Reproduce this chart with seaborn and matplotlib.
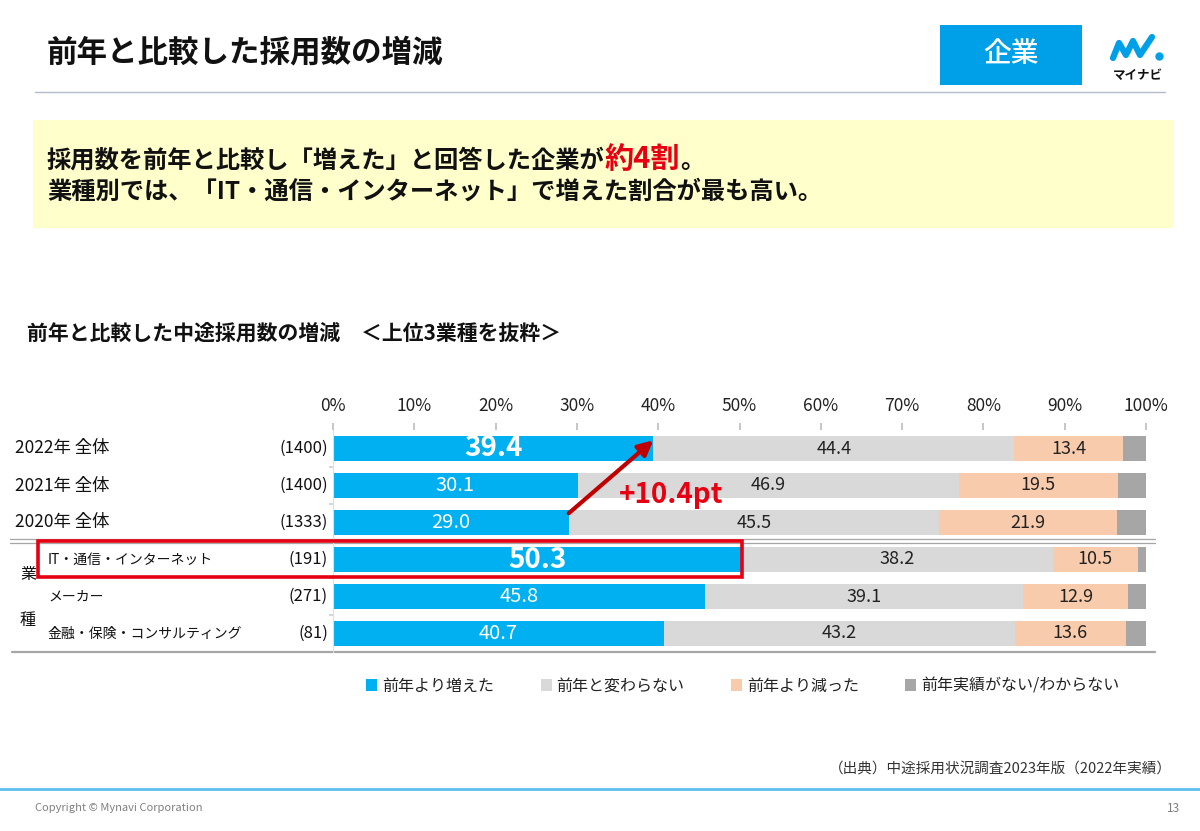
import numpy as np
import pandas as pd
import matplotlib
matplotlib.use("Agg")
import matplotlib.pyplot as plt
import seaborn as sns
from matplotlib.patches import Rectangle, Patch
from matplotlib.lines import Line2D
import matplotlib.transforms as mtransforms

# ---------------- data ----------------
categories = ["2022年 全体", "2021年 全体", "2020年 全体",
              "IT・通信・インターネット", "メーカー", "金融・保険・コンサルティング"]
sample_sizes = ["(1400)", "(1400)", "(1333)", "(191)", "(271)", "(81)"]
increased = [39.4, 30.1, 29.0, 50.3, 45.8, 40.7]
unchanged = [44.4, 46.9, 45.5, 38.2, 39.1, 43.2]
decreased = [13.4, 19.5, 21.9, 10.5, 12.9, 13.6]
unknown = [2.8, 3.5, 3.6, 1.0, 2.2, 2.5]
series_names = ["前年より増えた", "前年と変わらない", "前年より減った", "前年実績がない/わからない"]
series_colors = ["#00B0F0", "#D9D9D9", "#F8CBAD", "#A6A6A6"]
tick_values = [0, 10, 20, 30, 40, 50, 60, 70, 80, 90, 100]
tick_labels = [f"{v}%" for v in tick_values]
highlight_rows = [0, 3]

# ---------------- style ----------------
sns.set_theme(style="white")
plt.rcParams['font.family'] = ['Noto Sans CJK JP', 'DejaVu Sans']

W, H = 1200, 831
fig = plt.figure(figsize=(12, 8.31), dpi=100)
fig.patch.set_facecolor("white")


def fx(px):
    return px / W


def fy(py):
    return 1 - py / H


ax = fig.add_axes([fx(333), fy(652), fx(1146) - fx(333), fy(430) - fy(652)])

df = pd.DataFrame({"cat": categories,
                   series_names[0]: increased,
                   series_names[1]: unchanged,
                   series_names[2]: decreased,
                   series_names[3]: unknown})
cum = df[series_names].cumsum(axis=1)

for i in reversed(range(4)):
    sns.barplot(x=cum[series_names[i]], y=df["cat"], orient="h",
                color=series_colors[i], saturation=1, width=0.7,
                linewidth=0, ax=ax)

ax.set_xlim(0, 100)
ax.set_ylim(5.5, -0.5)
ax.set_xlabel("")
ax.set_ylabel("")
ax.xaxis.tick_top()
ax.set_xticks(tick_values)
ax.set_xticklabels(tick_labels, fontsize=12.5, color="#222222")
ax.tick_params(axis="x", which="major", length=5, color="#BFBFBF", pad=6, top=True, bottom=False)
ax.set_yticks([0.5, 1.5, 2.5, 3.5, 4.5])
ax.set_yticklabels([])
ax.tick_params(axis="y", length=3, color="#D0D0D0", left=True)
for s in ["top", "right", "bottom"]:
    ax.spines[s].set_visible(False)
ax.spines["left"].set_color("#E0E0E0")
ax.spines["left"].set_linewidth(0.8)

# value labels
segs = [increased, unchanged, decreased]
starts = [np.zeros(6), np.array(increased), np.array(increased) + np.array(unchanged)]
for r in range(6):
    for k in range(3):
        v = segs[k][r]
        cx = starts[k][r] + v / 2
        if k == 0:
            if r in highlight_rows:
                ax.text(cx, r, f"{v:.1f}", ha="center", va="center", color="white",
                        fontsize=20, fontweight="bold")
            else:
                ax.text(cx, r, f"{v:.1f}", ha="center", va="center", color="white",
                        fontsize=14.5)
        else:
            ax.text(cx, r, f"{v:.1f}", ha="center", va="center", color="#222222",
                    fontsize=13)

# row labels
bt = mtransforms.blended_transform_factory(fig.transFigure, ax.transData)
for r, (c, n) in enumerate(zip(categories, sample_sizes)):
    if r < 3:
        ax.text(fx(15), r, c, transform=bt, ha="left", va="center", fontsize=12.5, color="#111111")
    else:
        ax.text(fx(48), r, c, transform=bt, ha="left", va="center", fontsize=10, color="#111111")
    ax.text(fx(328), r, n, transform=bt, ha="right", va="center", fontsize=12, color="#111111")

fig.text(fx(28), fy(575), "業", ha="center", va="center", fontsize=11.5, color="#111111")
fig.text(fx(28), fy(620), "種", ha="center", va="center", fontsize=11.5, color="#111111")

# separator double line and bottom line
for dy in (-0.045, 0.045):
    ax.add_line(Line2D([fx(10), fx(1155)], [2.5 + dy, 2.5 + dy], transform=bt,
                       color="#A6A6A6", lw=0.9, clip_on=False))
ax.add_line(Line2D([fx(12), fx(1155)], [5.5, 5.5], transform=bt,
                   color="#A6A6A6", lw=1.6, clip_on=False))

# red highlight rectangle around IT row
left_x = ax.transData.inverted().transform(fig.transFigure.transform((fx(38), 0)))[0]
ax.add_patch(Rectangle((left_x, 2.5), increased[3] - left_x, 0.97, fill=False,
                       edgecolor="#E60012", lw=2.6, clip_on=False, zorder=5))

# arrow and difference
ax.annotate("", xy=(increased[0], -0.22), xytext=(increased[2], 1.75),
            arrowprops=dict(arrowstyle="-|>", color="#C00000", lw=3,
                            mutation_scale=22, shrinkA=0, shrinkB=0), zorder=6)
diff = increased[0] - increased[2]
ax.text(41.6, 1.27, f"+{diff:.1f}pt", ha="center", va="center", color="#E60012",
        fontsize=20, fontweight="bold", zorder=6)

# legend
handles = [Patch(facecolor=c, edgecolor="none") for c in series_colors]
fig.legend(handles, series_names, ncol=4, loc="center", bbox_to_anchor=(0.619, fy(686)),
           frameon=False, handlelength=0.7, handleheight=0.7, handletextpad=0.3,
           columnspacing=2.9, fontsize=11.5, labelcolor="#222222")

# ---------------- page decoration ----------------
fig.text(fx(47), fy(52), "前年と比較した採用数の増減", ha="left", va="center",
         fontsize=22, fontweight="bold", color="#111111")
fig.add_artist(Line2D([fx(35), fx(1165)], [fy(92), fy(92)], color="#B4BCCB", lw=1))

fig.add_artist(Rectangle((fx(940), fy(85)), fx(142), 60 / H, transform=fig.transFigure,
                         facecolor="#00A0E9", edgecolor="none"))
fig.text(fx(1011), fy(54), "企業", ha="center", va="center", fontsize=20, color="white",
         fontweight="medium")

# logo
lx = [1113, 1119, 1126, 1133, 1140, 1152]
ly = [58, 43, 55, 41, 55, 37]
fig.add_artist(Line2D([fx(v) for v in lx], [fy(v) for v in ly], color="#00A0E9", lw=4.5,
                      solid_capstyle="round", solid_joinstyle="round"))
fig.add_artist(Line2D([fx(1159)], [fy(56)], marker="o", markersize=5, color="#00A0E9", lw=0))
fig.text(fx(1138), fy(75), "マイナビ", ha="center", va="center", fontsize=9,
         fontweight="bold", color="#111111")

# yellow message box
fig.add_artist(Rectangle((fx(33), fy(228)), fx(1140), 108 / H, transform=fig.transFigure,
                         facecolor="#FFFFCC", edgecolor="none"))
renderer = fig.canvas.get_renderer()
t1 = fig.text(fx(47), fy(168), "採用数を前年と比較し「増えた」と回答した企業が", ha="left",
              va="baseline", fontsize=17.5, fontweight="bold", color="#111111")
w1 = t1.get_window_extent(renderer).width / W
t2 = fig.text(fx(47) + w1, fy(168), "約4割", ha="left", va="baseline", fontsize=21,
              fontweight="bold", color="#E60012")
w2 = t2.get_window_extent(renderer).width / W
fig.text(fx(47) + w1 + w2, fy(168), "。", ha="left", va="baseline", fontsize=17.5,
         fontweight="bold", color="#111111")
fig.text(fx(47), fy(199), "業種別では、「IT・通信・インターネット」で増えた割合が最も高い。",
         ha="left", va="baseline", fontsize=17.5, fontweight="bold", color="#111111")

# chart subtitle
fig.text(fx(27), fy(333), "前年と比較した中途採用数の増減　＜上位3業種を抜粋＞", ha="left",
         va="center", fontsize=15, fontweight="bold", color="#111111")

# footer
fig.text(fx(1172), fy(770), "（出典）中途採用状況調査2023年版（2022年実績）", ha="right",
         va="center", fontsize=10.5, color="#333333")
fig.add_artist(Line2D([0, 1], [fy(789), fy(789)], color="#5BC0EB", lw=2))
fig.text(fx(35), fy(808), "Copyright © Mynavi Corporation", ha="left", va="center",
         fontsize=8, color="#808080")
fig.text(fx(1180), fy(808), "13", ha="right", va="center", fontsize=8.5, color="#808080")

fig.savefig("out.png", dpi=100, facecolor="white")
